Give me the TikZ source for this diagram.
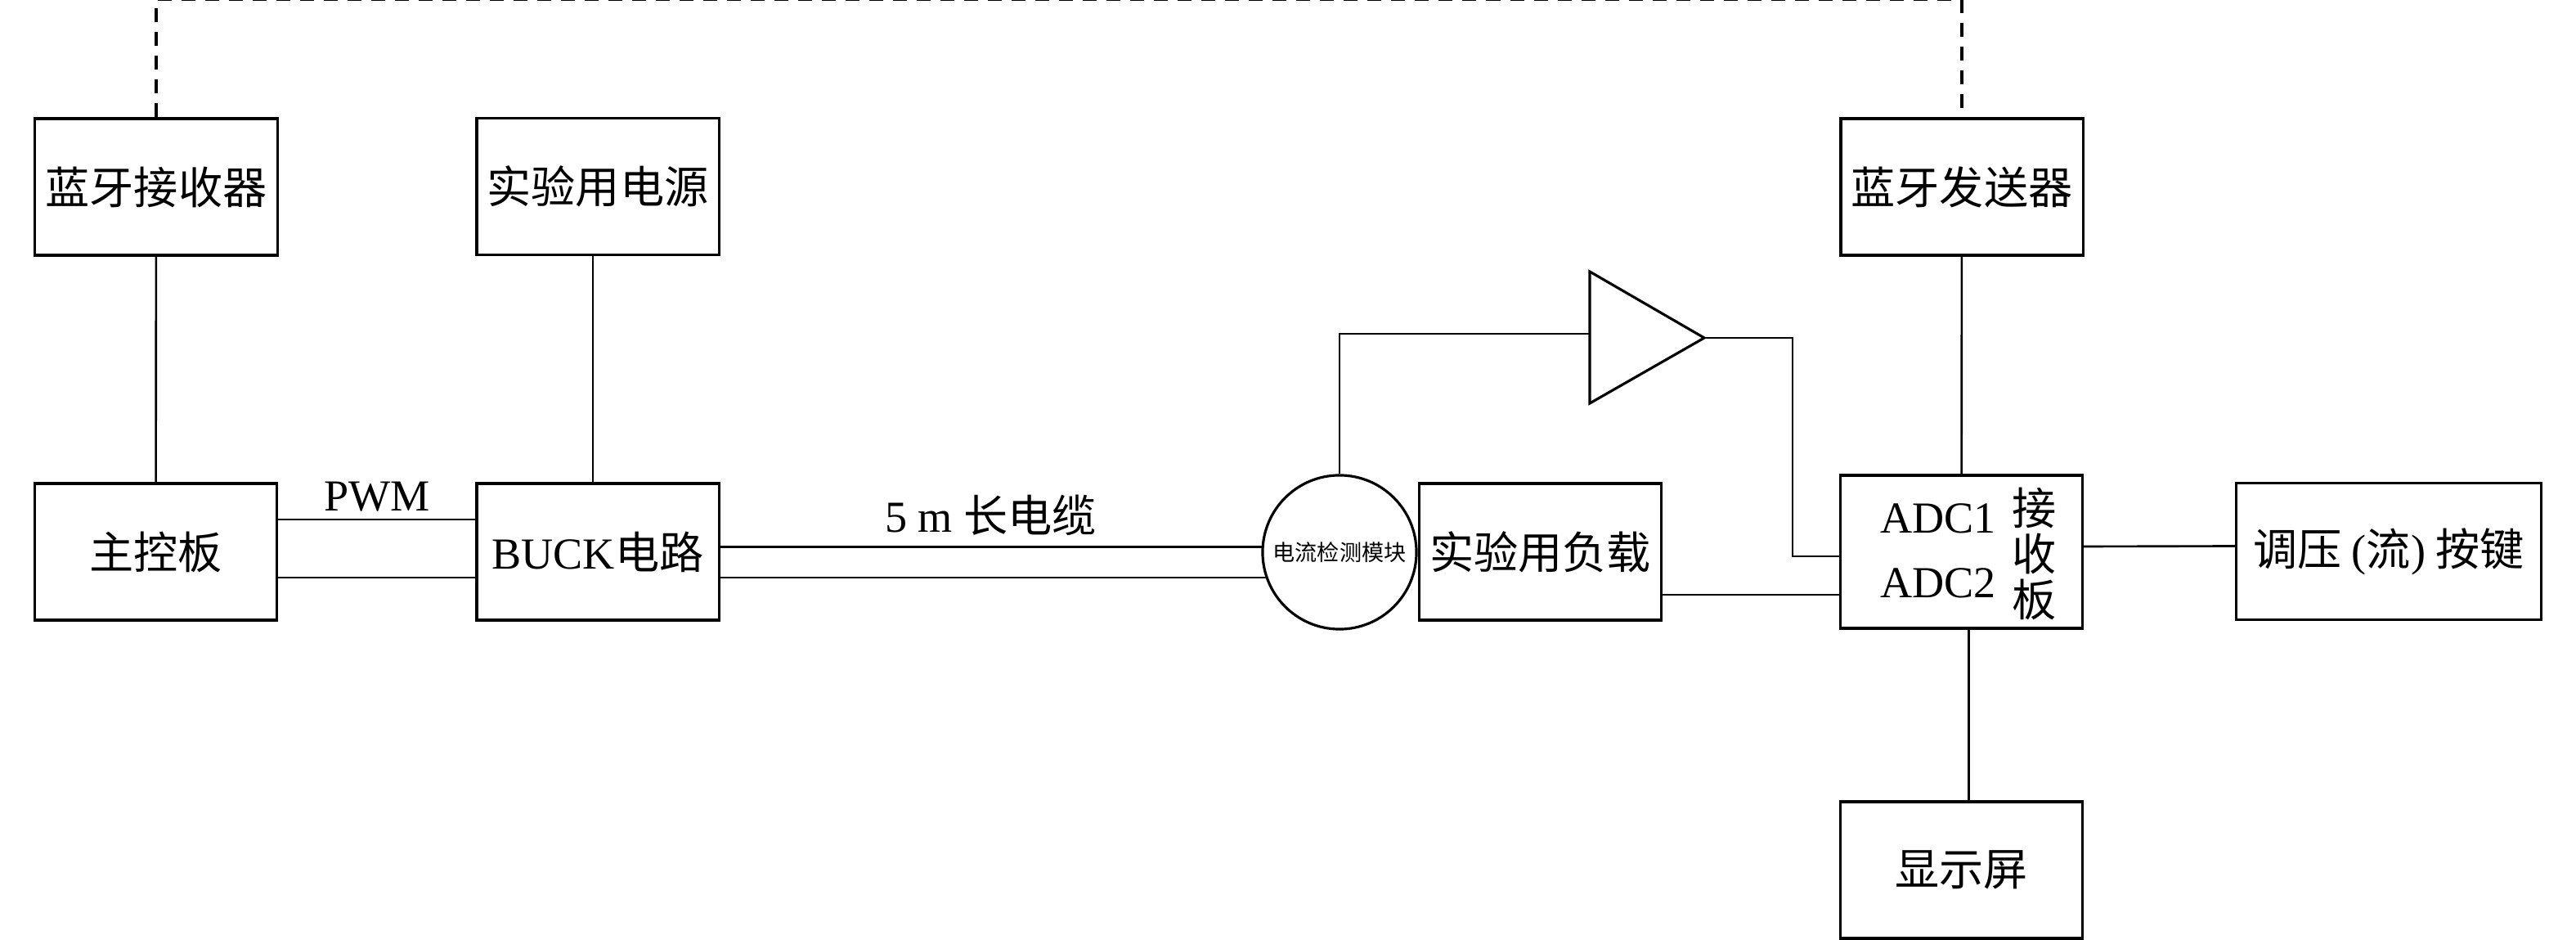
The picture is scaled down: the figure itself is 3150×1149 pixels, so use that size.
\documentclass[tikz,border=0pt]{standalone}
\usepackage{fontspec}
\setmainfont{Liberation Serif}
\newfontfamily\cjk{Noto Sans CJK SC}
\usetikzlibrary{calc}
\usetikzlibrary{positioning}

\begin{document}
\begin{tikzpicture}[x=0.01cm, y=-0.01cm, line width=0.75pt,
	lbl/.style={font=\fontsize{15.4}{18}\selectfont, inner sep=0pt},
	cjklbl/.style={font=\cjk\fontsize{15.4}{15.9}\selectfont, inner sep=0pt}]
	\useasboundingbox (0,0) rectangle (3150,1149);
	\begin{scope}[every node/.style={rectangle, draw, line width=0.9pt, minimum width=2.96cm, minimum height=1.67cm, inner sep=0pt, font=\cjk\fontsize{15.4}{18}\selectfont}]
	    	\node (btrx) at (191,228.5) {蓝牙接收器};
	    	\node (psu) at (731,228) {实验用电源};
	    	\node (bttx) at (2399,228.5) {蓝牙发送器};
	    	\node (mcu) at (190.5,674.5) {主控板};
	    	\node (buck) at (731,674.5) {{\rmfamily BUCK}电路};
	    	\node (load) at (1883.5,674.5) {实验用负载};
	    	\node[minimum height=1.87cm] (rxb) at (2398.5,674.5) {};
	    	\node[minimum width=3.72cm] (keys) at (2921,674) {调压 {\rmfamily(}流{\rmfamily)} 按键};
	    	\node (disp) at (2398.5,1063.5) {显示屏};
	    	\node[circle, minimum size=1.88cm, font=\cjk\fontsize{7.7}{9}\selectfont] (sensor) at (1638,675) {电流检测模块};
	\end{scope}

	\node[lbl, anchor=base] (adc1) at ([xshift=-0.285cm, yshift=0.225cm]rxb.center) {ADC1};
	\node[lbl, anchor=base] (adc2) at ([xshift=-0.285cm, yshift=-0.555cm]rxb.center) {ADC2};
	\node[cjklbl, align=center] (rxname) at ([xshift=0.895cm, yshift=-0.025cm]rxb.center) {接\\收\\板};

	\coordinate (ampin) at (1944,408);
	\coordinate (ampout) at (2084,413);
	\draw[line width=0.9pt, line join=miter] (1944,332) -- (ampout) -- (1944,493) -- cycle;

	\begin{scope}
		\draw (btrx) -- (mcu);
		\draw ([xshift=-0.06cm]psu.south) -- ([xshift=-0.06cm]buck.north);
		\draw (bttx) -- (rxb);
		\draw ([xshift=0.09cm]rxb.south) -- ([xshift=0.09cm]disp.north);
		\draw ([yshift=0.395cm]mcu.east) -- node[lbl, above, inner sep=0.08cm] (pwm) {PWM} ([yshift=0.395cm]buck.west);
		\draw ([yshift=-0.315cm]mcu.east) -- ([yshift=-0.315cm]buck.west);
		\draw (buck.east |- sensor.176) -- node[lbl, anchor=base, yshift=0.18cm] (cable) {5 m {\cjk 长电缆}} (sensor.176);
		\draw (buck.east |- sensor.199) -- (sensor.199);
		\draw (sensor.north) |- (ampin);
		\draw (ampout) -- ++(108,0) |- ([yshift=-0.055cm]rxb.west);
		\draw ([yshift=-0.525cm]load.east) -- ([yshift=-0.525cm]rxb.west);
		\draw ([yshift=0.065cm]rxb.east) -- ([yshift=0.065cm]keys.west);
		\draw[line width=0.9pt, dash pattern=on 0.17cm off 0.12cm] (btrx.north) -- ++(0,-143.5) -| (bttx.north);
	\end{scope}
\end{tikzpicture}
\end{document}
